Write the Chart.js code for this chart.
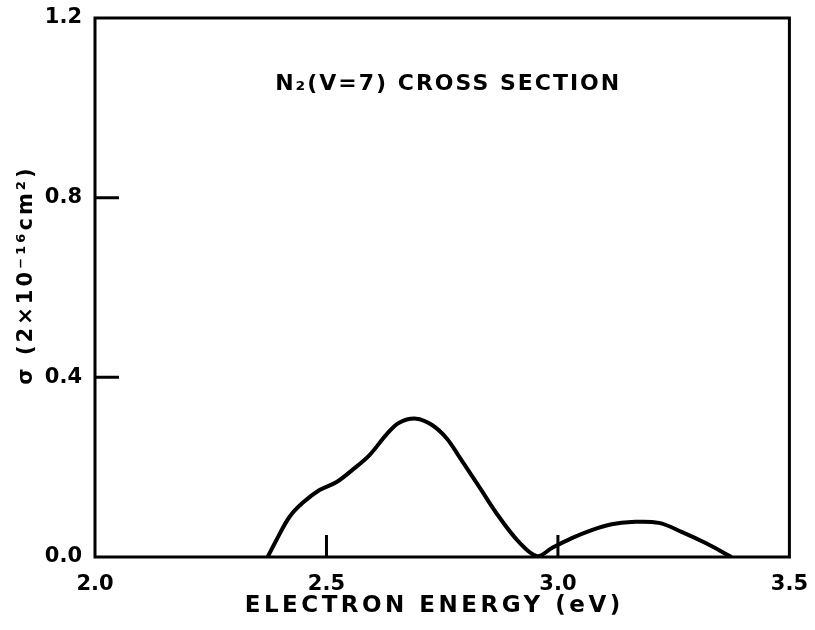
<!DOCTYPE html>
<html>
<head>
<meta charset="utf-8">
<script src="https://cdn.jsdelivr.net/npm/chart.js@4"></script>
<style>
  html, body { margin: 0; padding: 0; background: #fff; }
  #wrap { width: 815px; height: 630px; }
</style>
</head>
<body>
<div id="wrap"><canvas id="grafico" width="815" height="630"></canvas></div>
<script>
// energia (eV) y seccion eficaz
const energias = [2.373, 2.392, 2.420, 2.448, 2.485, 2.522, 2.556, 2.593, 2.629, 2.657, 2.694, 2.728, 2.759, 2.787, 2.830, 2.873, 2.916, 2.955, 2.987, 3.030, 3.073, 3.116, 3.159, 3.218, 3.267, 3.319, 3.375];
const seccion = [0, 0.038, 0.089, 0.120, 0.149, 0.167, 0.194, 0.227, 0.272, 0.299, 0.308, 0.294, 0.265, 0.223, 0.156, 0.089, 0.033, 0.002, 0.020, 0.042, 0.060, 0.073, 0.078, 0.076, 0.056, 0.031, 0];
const ticksX = [2.0, 2.5, 3.0, 3.5];
const ticksY = [0.0, 0.4, 0.8, 1.2];
const marcasX = [2.5, 3.0];
const marcasY = [0.4, 0.8];
const titulo = "N\u2082(V=7) CROSS SECTION";
const tituloX = "ELECTRON ENERGY (eV)";
const tituloY = "\u03c3 (2\u00d710\u207b\u00b9\u2076cm\u00b2)";

const fuente = "'DejaVu Sans', sans-serif";

// marco, marcas internas y textos con espaciado de letras
const marco = {
  id: "marco",
  afterDraw(chart) {
    const { ctx, chartArea: a, scales } = chart;
    ctx.save();
    ctx.strokeStyle = "#000";
    ctx.lineWidth = 3;
    ctx.strokeRect(a.left, a.top, a.right - a.left, a.bottom - a.top);
    ctx.beginPath();
    marcasY.forEach((v) => {
      const y = scales.y.getPixelForValue(v);
      ctx.moveTo(a.left, y);
      ctx.lineTo(a.left + 24, y);
    });
    marcasX.forEach((v) => {
      const x = scales.x.getPixelForValue(v);
      ctx.moveTo(x, a.bottom);
      ctx.lineTo(x, a.bottom - 22);
    });
    ctx.stroke();

    ctx.fillStyle = "#000";
    ctx.textBaseline = "middle";
    ctx.textAlign = "center";

    ctx.font = "bold 22px " + fuente;
    ctx.letterSpacing = "2px";
    ctx.fillText(titulo, (a.left + a.right) / 2 + 6, a.top + 66);

    ctx.font = "bold 23px " + fuente;
    ctx.letterSpacing = "3.5px";
    ctx.fillText(tituloX, (a.left + a.right) / 2 - 8, 606);

    ctx.font = "bold 21px " + fuente;
    ctx.letterSpacing = "3px";
    ctx.translate(27, 275);
    ctx.rotate(-Math.PI / 2);
    ctx.fillText(tituloY, 0, 0);
    ctx.restore();
  },
};

const ctx = document.getElementById("grafico").getContext("2d");
new Chart(ctx, {
  type: "line",
  data: {
    datasets: [
      {
        data: energias.map((e, i) => ({ x: e, y: seccion[i] })),
        borderColor: "#000",
        borderWidth: 4,
        pointRadius: 0,
        tension: 0.35,
        fill: false,
      },
    ],
  },
  options: {
    responsive: false,
    animation: false,
    layout: { padding: { top: 18, right: 22, left: 0, bottom: 0 } },
    plugins: { legend: { display: false }, tooltip: { enabled: false } },
    scales: {
      x: {
        type: "linear",
        min: 2.0,
        max: 3.5,
        afterBuildTicks: (s) => { s.ticks = ticksX.map((v) => ({ value: v })); },
        afterFit: (s) => { s.height = 73; },
        grid: { display: false },
        border: { display: false },
        ticks: {
          color: "#000",
          padding: 7,
          font: { family: fuente, size: 21, weight: "bold" },
          callback: (v) => Number(v).toFixed(1),
        },
      },
      y: {
        min: 0,
        max: 1.2,
        afterBuildTicks: (s) => { s.ticks = ticksY.map((v) => ({ value: v })); },
        afterFit: (s) => { s.width = 95; },
        grid: { display: false },
        border: { display: false },
        ticks: {
          color: "#000",
          padding: 5,
          font: { family: fuente, size: 21, weight: "bold" },
          callback: (v) => Number(v).toFixed(1),
        },
      },
    },
  },
  plugins: [marco],
});
</script>
</body>
</html>
